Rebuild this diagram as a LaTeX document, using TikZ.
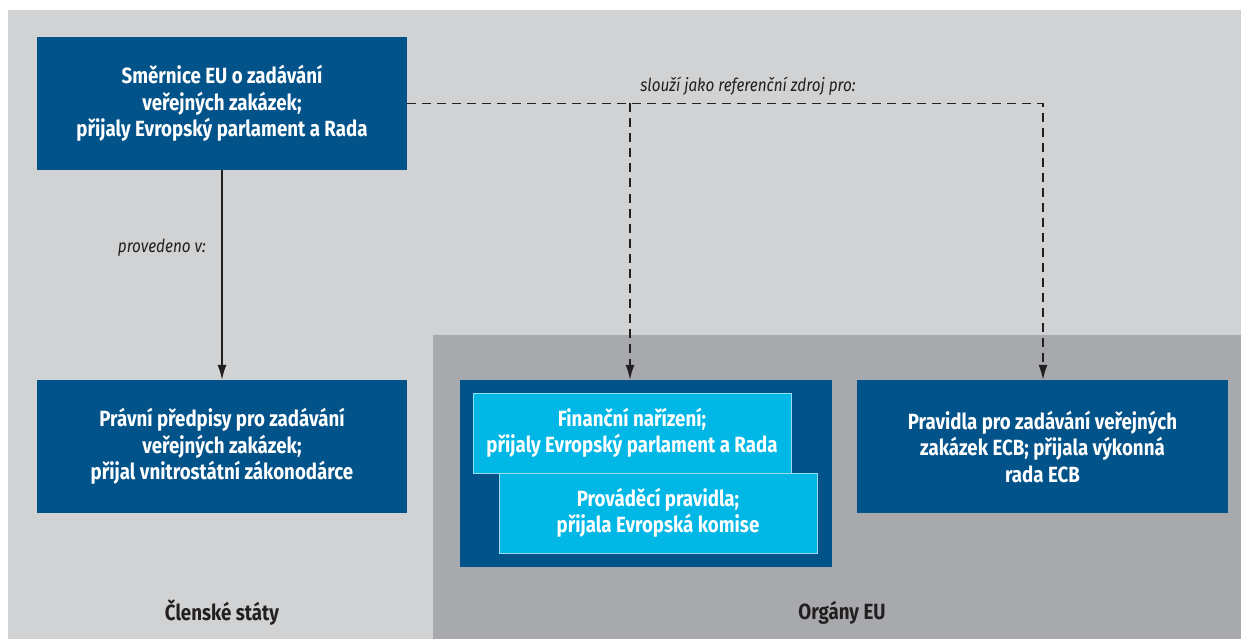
\documentclass[tikz,border=0pt]{standalone}
\usepackage{fontspec}
\setmainfont{Fira Sans}[FakeStretch=0.85]
\usetikzlibrary{arrows.meta,positioning}
\definecolor{bglight}{HTML}{D1D2D4}
\definecolor{bgdark}{HTML}{A7A9AC}
\definecolor{ecbblue}{HTML}{02538A}
\definecolor{ecbcyan}{HTML}{00B7E6}
\definecolor{cyanedge}{HTML}{9ADDF3}
\definecolor{inkgrey}{HTML}{231F20}
\tikzset{
  bluebox/.style={fill=ecbblue, text=white, font=\fontsize{22}{26.5}\selectfont\bfseries, align=center, inner sep=0pt},
  cyanbox/.style={fill=ecbcyan, draw=cyanedge, line width=1pt, text=white, font=\fontsize{22}{26.5}\selectfont\bfseries, align=center, inner sep=0pt},
  container/.style={fill=ecbblue, inner sep=0pt},
  conlabel/.style={font=\fontsize{18}{21}\selectfont\itshape, text=inkgrey},
  regionlabel/.style={font=\fontsize{22}{26}\selectfont\bfseries, text=inkgrey},
  solidarrow/.style={draw=inkgrey, line width=1.5pt, -{Latex[length=15pt,width=9pt]}},
  dashedline/.style={draw=inkgrey, line width=1.5pt, dash pattern=on 9pt off 6pt},
  dashedarrow/.style={dashedline, -{Latex[length=15pt,width=9pt]}}
}
\begin{document}
\begin{tikzpicture}[x=1pt,y=-1pt]
\useasboundingbox (0,0) rectangle (1241,639);
\fill[white] (0,0) rectangle (1241,639);
\fill[bglight] (8,10) rectangle (1241,639);
\fill[bgdark] (433,335) rectangle (1241,639);

\node[bluebox, minimum width=370pt, minimum height=133pt] (dir) at (222,103.5)
  {Směrnice EU o zadávání\\veřejných zakázek;\\přijaly Evropský parlament a Rada};
\node[bluebox, minimum width=370pt, minimum height=133pt] (law) at (222,446.5)
  {Právní předpisy pro zadávání\\veřejných zakázek;\\přijal vnitrostátní zákonodárce};
\node[container, minimum width=372pt, minimum height=187pt] (cont) at (646,473.5) {};
\node[cyanbox, minimum width=318pt, minimum height=80pt] (fin) at (632,433)
  {Finanční nařízení;\\přijaly Evropský parlament a Rada};
\node[cyanbox, minimum width=318pt, minimum height=80pt] (impl) at (658,513)
  {Prováděcí pravidla;\\přijala Evropská komise};
\node[bluebox, minimum width=371pt, minimum height=133pt] (ecb) at (1042.5,446.5)
  {Pravidla pro zadávání veřejných\\zakázek ECB; přijala výkonná\\rada ECB};

\node[regionlabel] (ms) at (222,613) {Členské státy};
\node[regionlabel] (eu) at (842,613) {Orgány EU};

\draw[solidarrow] (dir.south) -- node[conlabel, pos=0.37, left=12pt] {provedeno v:} (law.north);

\coordinate (corner) at (1043,103.5);
\coordinate (branch) at (630,103.5);
\draw[dashedarrow] (dir.east) -- (corner) -- (corner |- ecb.north);
\draw[dashedarrow] (branch) -- (branch |- cont.north);
\node[conlabel] (reflabel) at (748,86) {slouží jako referenční zdroj pro:};
\end{tikzpicture}
\end{document}
